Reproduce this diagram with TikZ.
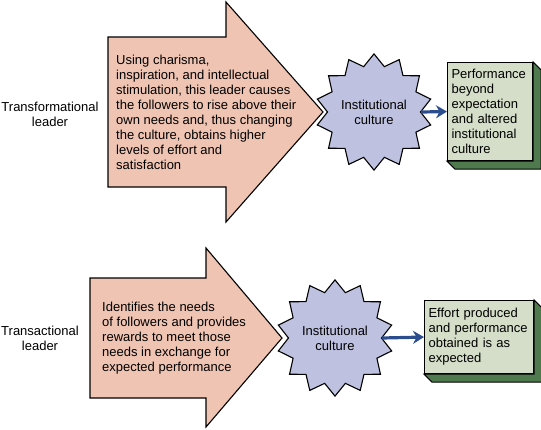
\documentclass[tikz,border=0pt]{standalone}
\usepackage{fontspec}
\setmainfont{Liberation Sans}
\usetikzlibrary{shapes.geometric,arrows.meta}
\definecolor{peach}{HTML}{EFC4B3}
\definecolor{lavender}{HTML}{BEC1DF}
\definecolor{sage}{HTML}{D4DEC8}
\definecolor{darksage}{HTML}{4E7A4E}
\definecolor{linkblue}{HTML}{2C4D8D}
\begin{document}
\begin{tikzpicture}[x=1pt, y=-1pt,
  every node/.style={font=\fontsize{13}{15}\selectfont, inner sep=0pt},
  label/.style={align=center},
  bigarrow/.style={fill=peach, draw=black, line width=1.1pt, line join=miter},
  desc/.style={anchor=west, align=left},
  cultstar/.style={star, star points=14, star point ratio=1.25, minimum size=102pt,
    fill=lavender, draw=black, line width=1.1pt, align=center},
  outcome/.style={rectangle, fill=sage, draw=black, line width=1.1pt, align=left,
    anchor=north west, inner xsep=4pt, inner ysep=5pt},
  depth/.style={fill=darksage, draw=black, line width=1.1pt, line join=miter},
  flowarrow/.style={draw=linkblue, line width=3.2pt, -{Stealth[length=11pt, width=13pt]}}
]
\useasboundingbox (0,0) rectangle (541,429);

% Transformational leader
\node[label] (tflabel) at (50,114) {Transformational\\leader};
\path[bigarrow] (108,37) -- (226,37) -- (226,2) -- (323,112) -- (226,222)
  -- (226,187) -- (108,187) -- cycle;
\node[desc] (tfdesc) at (116,112) {Using charisma,\\inspiration, and intellectual\\
  stimulation, this leader causes\\the followers to rise above their\\
  own needs and, thus changing\\the culture, obtains higher\\levels of effort and\\satisfaction};
\node[cultstar] (tfculture) at (374,112) {Institutional\\culture};
\node[outcome, text width=77pt, minimum height=98pt] (tfresult) at (447,62)
  {Performance\\beyond\\expectation\\and altered\\institutional\\culture};
\path[depth] (tfresult.north east) -- ++(8,8) -- ([shift={(8,8)}]tfresult.south east)
  -- ([shift={(8,8)}]tfresult.south west) -- (tfresult.south west)
  -- (tfresult.south east) -- cycle;
\draw[flowarrow] (tfculture.east) -- (tfresult.west);

% Transactional leader
\node[label] (talabel) at (40,338) {Transactional\\leader};
\path[bigarrow] (90,278) -- (206,278) -- (206,248) -- (282,338) -- (206,427)
  -- (206,398) -- (90,398) -- cycle;
\node[desc] (tadesc) at (102,338) {Identifies the needs\\of followers and provides\\
  rewards to meet those\\needs in exchange for\\expected performance};
\node[cultstar] (taculture) at (335,338) {Institutional\\culture};
\node[outcome, text width=101pt, minimum height=73pt] (taresult) at (424,300)
  {Effort produced\\and performance\\obtained is as\\expected};
\path[depth] (taresult.north east) -- ++(8,8) -- ([shift={(8,8)}]taresult.south east)
  -- ([shift={(8,8)}]taresult.south west) -- (taresult.south west)
  -- (taresult.south east) -- cycle;
\draw[flowarrow] (taculture.east) -- (taresult.west);

\end{tikzpicture}
\end{document}
